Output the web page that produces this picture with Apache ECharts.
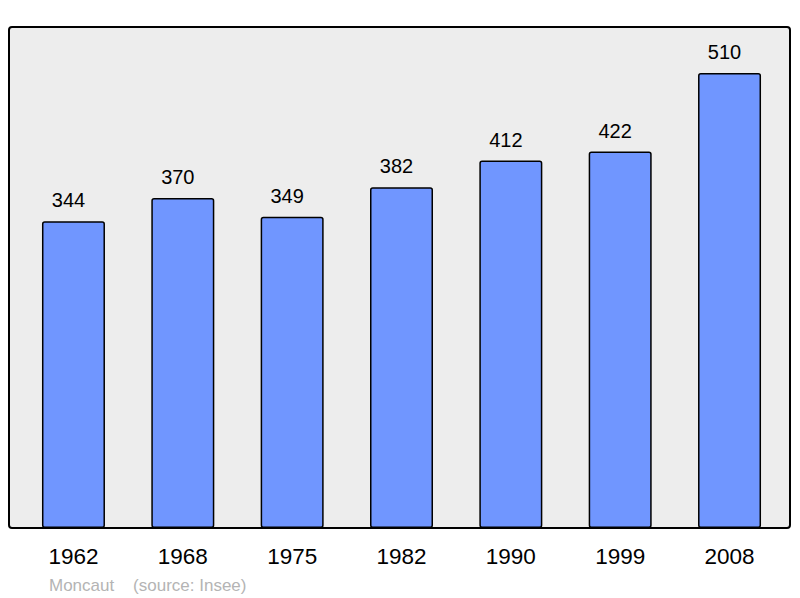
<!DOCTYPE html>
<html><head><meta charset="utf-8">
<script src="https://cdn.jsdelivr.net/npm/echarts@6/dist/echarts.min.js"></script>
<style>html,body{margin:0;padding:0;background:#fff}#c{width:800px;height:598px}</style>
</head><body><div id="c"></div>
<script>
const categories = ['1962','1968','1975','1982','1990','1999','2008'];
const values = [344, 370, 349, 382, 412, 422, 510];
const footer = 'Moncaut    (source: Insee)';
const chart = echarts.init(document.getElementById('c'), null, {renderer:'svg'});
chart.setOption({
  animation:false,
  backgroundColor:'#ffffff',
  graphic:[
    {type:'rect', z:-10, shape:{x:9,y:27,width:781,height:501,r:3},
     style:{fill:'#ededed', stroke:'#000', lineWidth:2}},
    {type:'text', left:49, top:577, style:{text:footer, fill:'#b4b4b4', font:'17px "Liberation Sans", Arial, sans-serif'}}
  ],
  grid:{left:18.8, right:800-784.2, top:27, bottom:70, containLabel:false},
  xAxis:{type:'category', data:categories,
    axisLine:{show:false}, axisTick:{show:false},
    axisLabel:{margin:17, fontSize:22.5, color:'#000', fontFamily:'"Liberation Sans", Arial, sans-serif'}},
  yAxis:{type:'value', min:0, max:561.7, show:false, splitLine:{show:false}},
  series:[{type:'bar', data:values, barWidth:63,
    itemStyle:{color:'#7096ff', borderColor:'#000', borderWidth:1.5, borderRadius:2},
    label:{show:true, position:'top', distance:11, offset:[-5,0], fontSize:20, color:'#000', fontFamily:'"Liberation Sans", Arial, sans-serif'}}]
});
</script></body></html>
